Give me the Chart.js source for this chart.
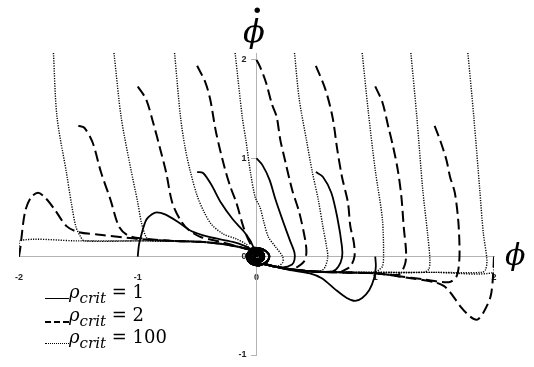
<!DOCTYPE html>
<html>
<head>
<meta charset="utf-8">
<script src="https://cdn.jsdelivr.net/npm/chart.js@4.4.7/dist/chart.umd.min.js"></script>
<style>
  body { margin: 0; background: #fff; }
  #wrap { position: relative; width: 534px; height: 367px; }
  .axis-name { position: absolute; font-family: "DejaVu Serif", serif; font-style: italic; color: #000; line-height: 1; white-space: nowrap; }
  .row { position: absolute; left: 45px; height: 20px; line-height: 20px; font-family: "DejaVu Serif", serif; font-size: 18px; color: #000; white-space: nowrap; }
  .row .txt { position: absolute; left: 24px; top: 0; }
  .row i { font-style: italic; }
  .row .sub { font-size: 15px; font-style: italic; position: relative; top: 5px; }
  .swatch { position: absolute; left: 0; top: 16px; width: 24px; height: 0; }
</style>
</head>
<body>
<div id="wrap">
  <canvas id="chart"></canvas>
  <div class="axis-name" style="left:243px; top:15px; font-size:32px;">ϕ</div>
  <div class="axis-name" style="left:252px; top:-4px; font-size:30px; font-style:normal; font-weight:bold;">·</div>
  <div class="axis-name" style="left:505px; top:240px; font-size:30px;">ϕ</div>
  <div class="row" style="top:282px;"><div class="swatch" style="border-top:1.2px solid #000;"></div><div class="txt"><i>ρ</i><span class="sub">crit</span> = 1</div></div>
  <div class="row" style="top:305px;"><div class="swatch" style="border-top:2.5px dashed #000;"></div><div class="txt"><i>ρ</i><span class="sub">crit</span> = 2</div></div>
  <div class="row" style="top:327px;"><div class="swatch" style="border-top:1px dotted #000;"></div><div class="txt"><i>ρ</i><span class="sub">crit</span> = 100</div></div>
</div>
<script>
// axis ticks
const xTicks = [-2, -1, 0, 1, 2];
const yTicks = [-1, 0, 1, 2];

// shared approaches into the origin and the final spirals
const upperBundle = [[-0.7, 0.16], [-0.47, 0.15], [-0.3, 0.13], [-0.15, 0.1], [-0.06, 0.075]];
const lowerBundle = [[0.7, -0.16], [0.47, -0.15], [0.3, -0.13], [0.15, -0.1], [0.06, -0.075]];
const spiralLeft = [[-0.02, 0.09], [0.05, 0.075], [0.1, 0.03], [0.105, -0.02], [0.07, -0.065], [0.01, -0.08], [-0.045, -0.055], [-0.065, -0.01], [-0.05, 0.04], [-0.01, 0.065], [0.035, 0.045], [0.055, 0.005], [0.04, -0.035], [0, -0.05], [-0.035, -0.03], [-0.045, 0.01], [-0.02, 0.04], [0.015, 0.03], [0.03, 0], [0.015, -0.025], [-0.01, -0.02], [-0.015, 0.005], [0, 0.01], [0, 0]];
const spiralRight = [[0.02, -0.09], [-0.045, -0.07], [-0.08, -0.02], [-0.075, 0.03], [-0.04, 0.07], [0.01, 0.075], [0.05, 0.045], [0.065, 0], [0.045, -0.045], [0, -0.06], [-0.04, -0.035], [-0.05, 0.01], [-0.025, 0.045], [0.015, 0.04], [0.035, 0.005], [0.02, -0.03], [-0.01, -0.03], [-0.025, 0], [-0.01, 0.02], [0.01, 0.01], [0, 0]];

// rho_crit = 1 (solid)
const solidM1 = [[-1, 0], [-0.99, 0.12], [-0.97, 0.22], [-0.93, 0.37], [-0.88, 0.43], [-0.84, 0.45], [-0.77, 0.43], [-0.67, 0.36], [-0.55, 0.26], [-0.4, 0.2], [-0.2, 0.15], [-0.1, 0.11], [-0.05, 0.08]];
const solidM05 = [[-0.5, 0.86], [-0.45, 0.85], [-0.38, 0.73], [-0.3, 0.55], [-0.2, 0.38], [-0.11, 0.26], [-0.05, 0.16]];
const solid0 = [[0, 1], [0.05, 0.93], [0.11, 0.78], [0.16, 0.58], [0.22, 0.37], [0.28, 0.17], [0.32, 0.04], [0.32, -0.03], [0.3, -0.08], [0.22, -0.11], [0.12, -0.09]];
const solidP05 = [[0.5, 0.86], [0.56, 0.81], [0.63, 0.65], [0.68, 0.4], [0.72, 0.1], [0.72, -0.01], [0.69, -0.1], [0.64, -0.15]];
const solidP1 = [[1, 0], [1.005, -0.1], [0.99, -0.22], [0.95, -0.34], [0.89, -0.42], [0.83, -0.45], [0.76, -0.42], [0.66, -0.33], [0.55, -0.22], [0.45, -0.17], [0.3, -0.14], [0.15, -0.1]];

// rho_crit = 2 (dashed)
const dashM2 = [[-2, 0], [-1.99, 0.08], [-1.95, 0.45], [-1.9, 0.6], [-1.84, 0.65], [-1.78, 0.6], [-1.7, 0.48], [-1.6, 0.31], [-1.5, 0.25], [-1.3, 0.22], [-1.0, 0.18]];
const dashM15 = [[-1.5, 1.33], [-1.45, 1.31], [-1.38, 1.16], [-1.31, 0.86], [-1.23, 0.58], [-1.16, 0.31], [-1.09, 0.22], [-1.0, 0.19]];
const dashM1 = [[-1, 1.73], [-0.93, 1.6], [-0.87, 1.36], [-0.81, 1.09], [-0.76, 0.85], [-0.71, 0.55], [-0.64, 0.37], [-0.57, 0.27], [-0.47, 0.2], [-0.3, 0.15]];
const dashM05 = [[-0.5, 1.94], [-0.43, 1.77], [-0.39, 1.6], [-0.34, 1.26], [-0.27, 0.91], [-0.22, 0.71], [-0.17, 0.55], [-0.11, 0.3], [-0.06, 0.15]];
const dash0 = [[0, 2], [0.03, 1.93], [0.08, 1.77], [0.13, 1.55], [0.17, 1.42], [0.2, 1.19], [0.24, 0.98], [0.3, 0.68], [0.36, 0.45], [0.41, 0.17], [0.42, 0.04], [0.4, -0.05], [0.35, -0.1]];
const dashP05 = [[0.5, 1.94], [0.58, 1.7], [0.64, 1.42], [0.68, 1.09], [0.72, 0.81], [0.77, 0.55], [0.79, 0.31], [0.82, 0.14], [0.825, 0], [0.79, -0.1], [0.72, -0.15]];
const dashP1 = [[1, 1.73], [1.06, 1.57], [1.11, 1.32], [1.15, 1.12], [1.19, 0.88], [1.22, 0.61], [1.24, 0.3], [1.26, 0.04], [1.25, -0.08], [1.2, -0.18], [1.1, -0.18], [1.0, -0.17]];
const dashP15 = [[1.5, 1.33], [1.55, 1.17], [1.6, 0.98], [1.63, 0.81], [1.67, 0.65], [1.7, 0.35], [1.71, 0.04], [1.7, -0.13], [1.68, -0.21], [1.62, -0.26], [1.4, -0.23], [1.2, -0.2], [1.0, -0.17]];
const dashP2 = [[2, 0], [1.99, -0.23], [1.97, -0.41], [1.91, -0.57], [1.86, -0.64], [1.8, -0.61], [1.72, -0.51], [1.63, -0.36], [1.58, -0.3], [1.5, -0.26], [1.3, -0.22], [1.0, -0.17]];

// rho_crit = 100 (dotted)
const dotM2 = [[-2, 0], [-2, 0.16], [-1.5, 0.16], [-1, 0.16]];
const dotA = [[-1.71, 2.07], [-1.68, 1.42], [-1.6, 0.85], [-1.56, 0.55], [-1.52, 0.3], [-1.48, 0.2], [-1.45, 0.16], [-1.0, 0.16]];
const dotB = [[-1.2, 2.07], [-1.14, 1.42], [-1.06, 0.9], [-1.0, 0.55], [-0.97, 0.35], [-0.93, 0.2], [-0.89, 0.16]];
const dotC = [[-0.69, 2.07], [-0.64, 1.42], [-0.6, 1.1], [-0.56, 0.88], [-0.5, 0.62], [-0.44, 0.45], [-0.38, 0.33], [-0.28, 0.23], [-0.17, 0.18], [-0.08, 0.12]];
const dotD = [[-0.18, 2.07], [-0.12, 1.42], [-0.09, 1.19], [-0.05, 0.85], [-0.01, 0.6], [0.03, 0.5], [0.06, 0.36], [0.1, 0.2], [0.16, 0.1], [0.22, 0], [0.22, -0.06], [0.17, -0.1], [0.08, -0.08]];
const dotE = [[0.32, 2.07], [0.36, 1.6], [0.42, 1.19], [0.47, 0.86], [0.52, 0.58], [0.56, 0.3], [0.59, 0.1], [0.6, 0], [0.58, -0.1], [0.55, -0.14], [0.47, -0.15]];
const dotF = [[0.89, 2.07], [0.94, 1.49], [1.0, 0.88], [1.06, 0.38], [1.07, 0], [1.06, -0.1], [1.025, -0.14], [1.0, -0.16]];
const dotG = [[1.3, 2.07], [1.35, 1.42], [1.4, 0.68], [1.44, 0.24], [1.46, -0.03], [1.45, -0.13], [1.4, -0.16], [1.0, -0.16]];
const dotH = [[1.78, 2.07], [1.83, 1.42], [1.88, 0.68], [1.91, 0.24], [1.94, -0.03], [1.93, -0.13], [1.9, -0.16], [1.5, -0.16]];
const dotP2 = [[2, 0], [2, -0.16], [1.5, -0.16], [1.0, -0.16]];

const styles = {
  solid: { borderWidth: 1.8, borderDash: [] },
  dashed: { borderWidth: 2, borderDash: [11, 5] },
  dotted: { borderWidth: 1.4, borderDash: [1.2, 1.3] },
};

const curves = [
  ["dotted", dotM2, true], ["dotted", dotA, true], ["dotted", dotB, true], ["dotted", dotC, true],
  ["dotted", dotD, false], ["dotted", dotE, false], ["dotted", dotF, false], ["dotted", dotG, false],
  ["dotted", dotH, false], ["dotted", dotP2, false],
  ["dashed", dashM2, true], ["dashed", dashM15, true], ["dashed", dashM1, true], ["dashed", dashM05, true],
  ["dashed", dash0, false], ["dashed", dashP05, false], ["dashed", dashP1, false], ["dashed", dashP15, false],
  ["dashed", dashP2, false],
  ["solid", solidM1, true], ["solid", solidM05, true], ["solid", solid0, false], ["solid", solidP05, false],
  ["solid", solidP1, false],
];

function toOrigin(path, fromLeft) {
  const last = path[path.length - 1][0];
  const approach = fromLeft
    ? upperBundle.filter(([x]) => x > last)
    : lowerBundle.filter(([x]) => x < last);
  return path
    .concat(approach, fromLeft ? spiralLeft : spiralRight)
    .map(([x, y]) => ({ x, y }));
}

const tickFont = { family: "'Liberation Sans', Arial, sans-serif", size: 9, weight: "bold" };
const axisGrey = "#b3b3b3";

new Chart(document.getElementById("chart"), {
  type: "scatter",
  data: {
    datasets: curves.map(([kind, path, fromLeft]) => ({
      data: toOrigin(path, fromLeft),
      showLine: true,
      fill: false,
      tension: 0.3,
      pointRadius: 0,
      borderColor: "#000",
      borderCapStyle: "butt",
      ...styles[kind],
    })),
  },
  options: {
    responsive: true,
    maintainAspectRatio: false,
    animation: false,
    events: [],
    layout: { padding: { left: 14, right: 40, top: 53, bottom: 12 } },
    plugins: { legend: { display: false }, tooltip: { enabled: false } },
    scales: {
      x: {
        type: "linear",
        min: -2,
        max: 2,
        position: { y: 0 },
        afterBuildTicks: (scale) => { scale.ticks = xTicks.map((value) => ({ value })); },
        grid: { drawOnChartArea: false, drawTicks: false },
        border: { color: axisGrey, width: 1 },
        ticks: { font: tickFont, color: "#222", padding: 15, maxRotation: 0, autoSkip: false },
      },
      y: {
        type: "linear",
        min: -1,
        max: 2.07,
        position: { x: 0 },
        afterBuildTicks: (scale) => { scale.ticks = yTicks.map((value) => ({ value })); },
        grid: { drawOnChartArea: false, tickLength: 5, color: axisGrey },
        border: { color: axisGrey, width: 1 },
        // labels sit against the axis when it is placed by value, so pad them with figure spaces
        ticks: {
          font: tickFont,
          color: "#222",
          padding: 4,
          autoSkip: false,
          callback: (value) => value + "\u2007\u2007",
        },
      },
    },
  },
});
</script>
</body>
</html>
